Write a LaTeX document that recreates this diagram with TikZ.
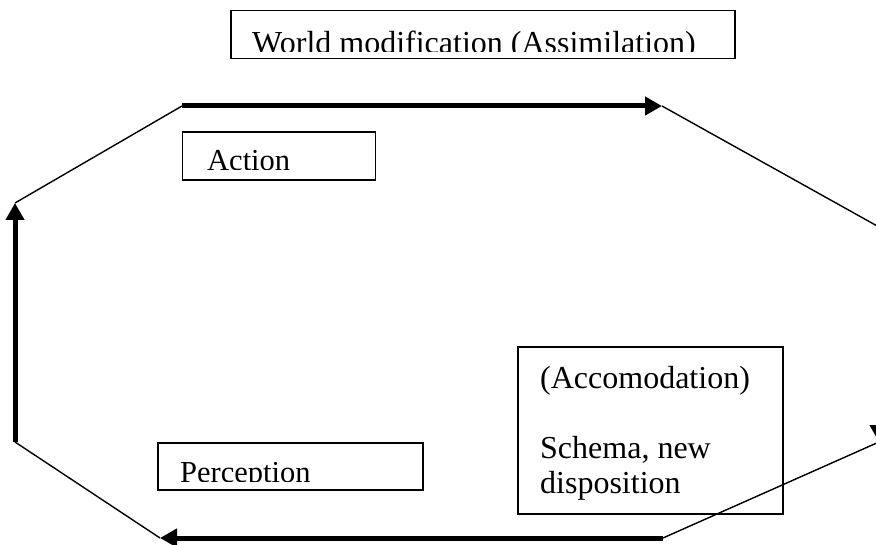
\documentclass[tikz,border=0pt]{standalone}
\usepackage{fontspec}
\setmainfont{Liberation Serif}
\usetikzlibrary{arrows.meta}
\tikzset{
  boxnode/.style={draw, line width=1.3pt, inner sep=0pt, rectangle},
  thickarrow/.style={line width=5pt, -{Triangle[length=17pt,width=18pt]}},
  thinline/.style={line width=1.4pt},
  lbl/.style={anchor=base west, inner sep=0pt, font=\fontsize{32}{35}\selectfont},
  smalllbl/.style={lbl, font=\fontsize{30.5}{35}\selectfont},
}
\begin{document}
\begin{tikzpicture}[x=1pt,y=-1pt]
\useasboundingbox (0,0) rectangle (876,545);
% corner points of the cycle
\coordinate (TL) at (182,106);
\coordinate (TR) at (662,106);
\coordinate (RT) at (879,227);
\coordinate (RB) at (879,442);
\coordinate (BR) at (663,538);
\coordinate (BL) at (160,538);
\coordinate (LB) at (15,442);
\coordinate (LT) at (15,203);
% boxes
\node[boxnode, minimum width=504pt, minimum height=48pt] (world) at (483,34.5) {};
\node[boxnode, minimum width=193pt, minimum height=48pt] (action) at (279,156) {};
\node[boxnode, minimum width=265pt, minimum height=47pt] (perc) at (290.5,466.5) {};
\node[boxnode, minimum width=265pt, minimum height=167pt] (acc) at (650.5,430.5) {};
% clipped texts
\begin{scope}
\clip (231,11) rectangle (735,52);
\node[lbl] (worldtxt) at (252,53.5) {World modification (Assimilation)};
\end{scope}
\begin{scope}
\clip (182,131) rectangle (376,170);
\node[smalllbl] (actiontxt) at (207,171) {Action};
\end{scope}
\begin{scope}
\clip (158,443) rectangle (423,481.5);
\node[smalllbl] (perctxt) at (180,482.5) {Perception};
\end{scope}
\node[lbl, align=left] (acctxt) at (540,493) {(Accomodation)\\[35pt]Schema, new\\disposition};
% cycle
\draw[thickarrow] (TL) -- (TR);
\draw[thinline] (TR) -- (RT);
\draw[thickarrow] (RT) -- (RB);
\draw[thinline] (RB) -- (BR);
\draw[thickarrow] (BR) -- (BL);
\draw[thinline] (BL) -- (LB);
\draw[thickarrow] (LB) -- (LT);
\draw[thinline] (LT) -- (TL);
\end{tikzpicture}
\end{document}
